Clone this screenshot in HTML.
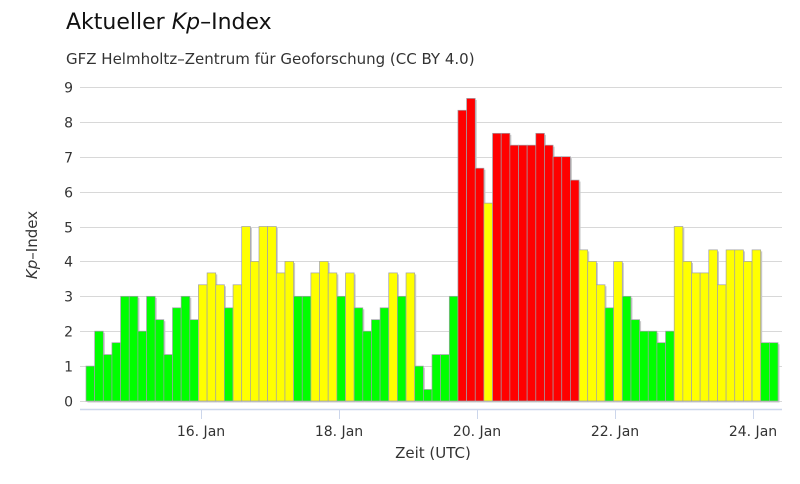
<!DOCTYPE html>
<html><head><meta charset="utf-8"><style>
html,body{margin:0;padding:0;background:#fff;}
svg{display:block;font-family:"DejaVu Sans","Liberation Sans",sans-serif;}
</style></head><body>
<svg id="c" width="800" height="484" viewBox="0 0 800 484" xmlns="http://www.w3.org/2000/svg">
<text x="66" y="29" font-size="22" fill="#111">Aktueller <tspan font-style="italic">Kp</tspan>–Index</text>
<text x="66" y="64" font-size="15" fill="#333">GFZ Helmholtz–Zentrum für Geoforschung (CC BY 4.0)</text>
<g id="grid" stroke="#d8d8d8" stroke-width="1"></g>
<g id="ylab" font-size="14" fill="#333" text-anchor="end"></g>
<g id="bars"></g>
<line x1="80" y1="409.5" x2="782" y2="409.5" stroke="#ccd6eb" stroke-width="1.5"/>
<g id="xt" stroke="#ccd6eb" stroke-width="1"></g>
<g id="xl" font-size="14" fill="#333" text-anchor="middle"></g>
<text transform="translate(37,245) rotate(-90)" font-size="15" fill="#333" text-anchor="middle"><tspan font-style="italic">Kp</tspan>–Index</text>
<text x="433" y="458" font-size="15" fill="#333" text-anchor="middle">Zeit (UTC)</text>
</svg>
<script>
var NS="http://www.w3.org/2000/svg";
function el(p,t,a,txt){var e=document.createElementNS(NS,t);for(var k in a)e.setAttribute(k,a[k]);if(txt)e.textContent=txt;document.getElementById(p).appendChild(e);}
var y0=401,u=34.9;
for(var i=0;i<=9;i++){var y=Math.round(y0-i*u)+0.5;el("grid","line",{x1:80,x2:782,y1:y,y2:y});el("ylab","text",{x:73,y:y+5},""+i);}
var v=[1,2,1.33,1.67,3,3,2,3,2.33,1.33,2.67,3,2.33,3.33,3.67,3.33,2.67,3.33,5,4,5,5,3.67,4,3,3,3.67,4,3.67,3,3.67,2.67,2,2.33,2.67,3.67,3,3.67,1,0.33,1.33,1.33,3,8.33,8.67,6.67,5.67,7.67,7.67,7.33,7.33,7.33,7.67,7.33,7,7,6.33,4.33,4,3.33,2.67,4,3,2.33,2,2,1.67,2,5,4,3.67,3.67,4.33,3.33,4.33,4.33,4,4.33,1.67,1.67];
var w=8.65,x0=86;
v.forEach(function(k,i){var c=k>=6?"#ff0000":(k>3?"#ffff00":"#00ff00");var h=k*u;var x=x0+i*w;
el("bars","rect",{x:x+1.5,y:y0-h+1.5,width:w,height:h,fill:"#c8c8c8"});
el("bars","rect",{x:x,y:y0-h,width:w,height:h,fill:c,stroke:"#a0a0a8","stroke-width":0.7});});
var d=["16. Jan","18. Jan","20. Jan","22. Jan","24. Jan"],tx=[201,339,477,615,753];
tx.forEach(function(x,i){el("xt","line",{x1:x+0.5,x2:x+0.5,y1:409,y2:419});el("xl","text",{x:x,y:436},d[i]);});
</script>
</body></html>
